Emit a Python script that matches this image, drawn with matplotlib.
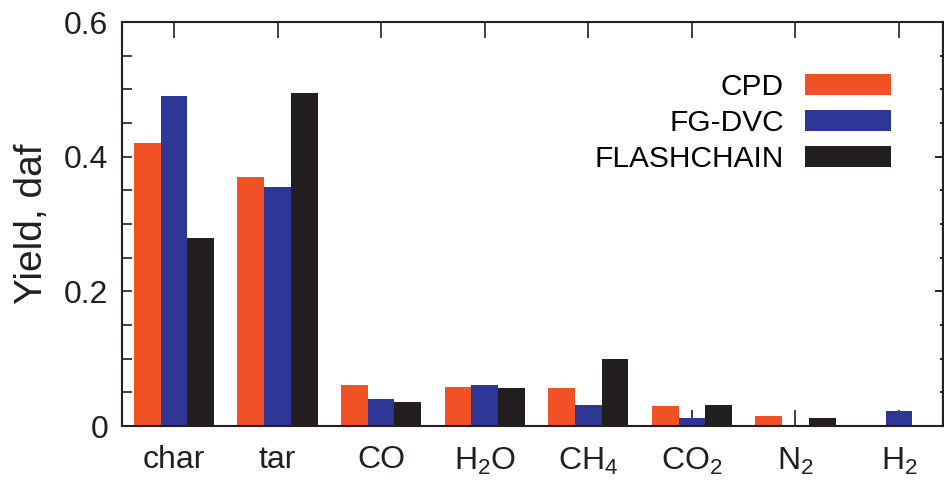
import numpy as np
import matplotlib
matplotlib.use("Agg")
import matplotlib.pyplot as plt
from matplotlib.ticker import MultipleLocator, FuncFormatter

plt.rcParams['font.family'] = ['Liberation Sans', 'DejaVu Sans']
plt.rcParams['mathtext.fontset'] = 'custom'
plt.rcParams['mathtext.rm'] = 'Liberation Sans'
plt.rcParams['mathtext.it'] = 'Liberation Sans'

# yields per product
products = ['char', 'tar', 'CO', 'H$_2$O', 'CH$_4$', 'CO$_2$', 'N$_2$', 'H$_2$']
cpd = [0.42, 0.37, 0.061, 0.058, 0.056, 0.030, 0.015, 0.0]
fgdvc = [0.49, 0.355, 0.040, 0.061, 0.031, 0.012, 0.0, 0.022]
flashchain = [0.28, 0.495, 0.035, 0.056, 0.100, 0.031, 0.012, 0.0]

series = [('CPD', cpd, '#f05125'),
          ('FG-DVC', fgdvc, '#2e3796'),
          ('FLASHCHAIN', flashchain, '#231f20')]

fig = plt.figure(figsize=(9.44, 4.8), dpi=100)
ax = fig.add_axes([0.1292, 0.1125, 0.8698, 0.8415])

x = np.arange(len(products))
w = 0.258
for i, (name, vals, col) in enumerate(series):
    ax.bar(x + (i - 1) * w, vals, width=w, color=col, label=name, zorder=2)

ax.set_axisbelow(True)
ax.set_xlim(-0.502, 7.425)
ax.set_ylim(0, 0.6)

ax.set_xticks(x)
ax.set_xticklabels(products, fontsize=23, color='#231f20')
ax.tick_params(axis='x', direction='in', length=11.5, width=1.2, top=True,
               pad=14, color='#231f20')

ax.yaxis.set_major_locator(MultipleLocator(0.2))
ax.yaxis.set_minor_locator(MultipleLocator(0.05))
ax.yaxis.set_major_formatter(FuncFormatter(lambda v, p: '0' if abs(v) < 1e-9 else f'{v:.1f}'))
ax.tick_params(axis='y', which='both', direction='in', length=7, width=1.2,
               pad=10, color='#231f20', labelsize=23, labelcolor='#231f20')

sec = ax.secondary_yaxis('right')
sec.yaxis.set_major_locator(MultipleLocator(0.2))
sec.yaxis.set_minor_locator(MultipleLocator(0.05))
sec.tick_params(which='major', direction='in', length=6, width=1.2, labelright=False)
sec.tick_params(which='minor', direction='in', length=2, width=1.2)
sec.spines['right'].set_linewidth(1.5)
sec.spines['right'].set_color('#231f20')

ax.set_ylabel('Yield, daf', fontsize=28, color='#231f20', labelpad=10)

for s in ax.spines.values():
    s.set_linewidth(1.5)
    s.set_color('#231f20')

ax.legend(loc='upper right', bbox_to_anchor=(0.937, 0.874), frameon=False,
          markerfirst=False, fontsize=21.5, handlelength=2.9, handleheight=0.7,
          handletextpad=0.7, labelspacing=0.26, borderpad=0, borderaxespad=0)

fig.savefig('out.png', dpi=100)
